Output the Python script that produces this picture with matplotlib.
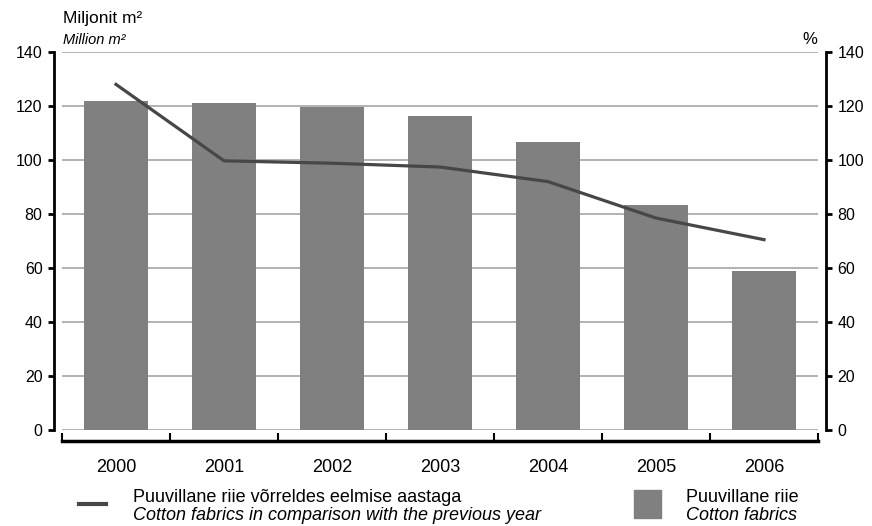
import matplotlib
matplotlib.use("Agg")
import matplotlib.pyplot as plt
from matplotlib.lines import Line2D
from matplotlib.patches import Rectangle

plt.rcParams['font.family'] = ['Liberation Sans', 'DejaVu Sans']

years = ['2000', '2001', '2002', '2003', '2004', '2005', '2006']
fabrics = [122, 121, 119.5, 116.3, 106.5, 83.3, 59]        # million m2
change_pct = [128, 99.7, 98.8, 97.4, 92, 78.5, 70.5]        # % vs previous year

bar_color = '#808080'
line_color = '#474747'
grid_color = '#a6a6a6'

W, H = 872, 526
fig = plt.figure(figsize=(W / 100, H / 100), dpi=100)
ax = fig.add_axes([62 / W, 1 - 430 / H, 756 / W, 378 / H])
ax2 = ax.twinx()

x = list(range(len(years)))
ax.bar(x, fabrics, width=0.6, color=bar_color, zorder=2)
ax2.plot(x, change_pct, color=line_color, linewidth=2.3, zorder=3)

for a in (ax, ax2):
    a.set_ylim(0, 140)
    a.set_yticks(range(0, 141, 20))
    a.spines['top'].set_visible(False)
ax.set_xlim(-0.5, 6.5)

ax.yaxis.grid(True, color=grid_color, linewidth=1.2, zorder=0)
ax.set_axisbelow(True)

ax.spines['left'].set_linewidth(2)
ax.spines['left'].set_position(('outward', 6))
ax.spines['right'].set_visible(False)
ax2.spines['left'].set_visible(False)
ax2.spines['bottom'].set_visible(False)
ax2.spines['right'].set_linewidth(2)
ax2.spines['right'].set_position(('outward', 6))

ax.tick_params(axis='y', direction='out', length=4, width=2, labelsize=11.5, pad=4)
ax2.tick_params(axis='y', direction='out', length=4, width=2, labelsize=11.5, pad=4)

# category axis shifted below the plot area
ax.spines['bottom'].set_position(('outward', 8))
ax.spines['bottom'].set_linewidth(2.5)
ax.set_xticks([i - 0.5 for i in range(len(years) + 1)])
ax.set_xticklabels([])
ax.set_xticks(x, minor=True)
ax.set_xticklabels(years, minor=True)
ax.tick_params(axis='x', which='major', direction='in', length=6, width=1.5)
ax.tick_params(axis='x', which='minor', length=0, labelsize=13, pad=13)

fig.text(63 / W, 1 - 18 / H, 'Miljonit m²', fontsize=12.5, va='center', ha='left')
fig.text(63 / W, 1 - 40 / H, 'Million m²', fontsize=10.5, style='italic', va='center', ha='left')
fig.text(817 / W, 1 - 40 / H, '%', fontsize=12, va='center', ha='right')

# legend
fig.add_artist(Line2D([79 / W, 106 / W], [1 - 504 / H, 1 - 504 / H],
                      color=line_color, linewidth=3, transform=fig.transFigure))
fig.text(133 / W, 1 - 502 / H, 'Puuvillane riie võrreldes eelmise aastaga', fontsize=13, va='baseline')
fig.text(133 / W, 1 - 520 / H, 'Cotton fabrics in comparison with the previous year', fontsize=13,
         style='italic', va='baseline')
fig.add_artist(Rectangle((634 / W, 1 - 518 / H), 27 / W, 28 / H, color=bar_color,
                         transform=fig.transFigure))
fig.text(686 / W, 1 - 502 / H, 'Puuvillane riie', fontsize=13, va='baseline')
fig.text(686 / W, 1 - 520 / H, 'Cotton fabrics', fontsize=13, style='italic', va='baseline')

fig.savefig('out.png', dpi=100)
